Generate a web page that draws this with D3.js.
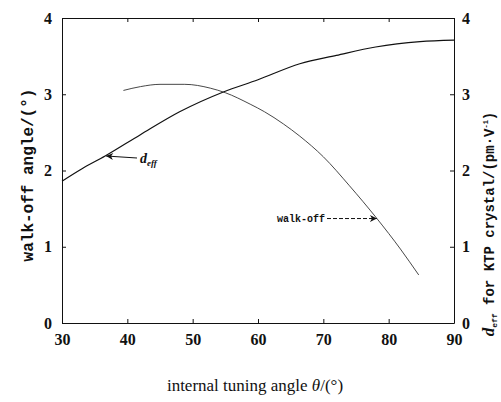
<!DOCTYPE html>
<html>
<head>
<meta charset="utf-8">
<script src="https://cdn.jsdelivr.net/npm/d3@7"></script>
<style>
    body { margin: 0; background: #fff; }
    svg { display: block; }
</style>
</head>
<body>
<svg id="chart"></svg>
<script>
// values
const deffTheta = [30, 33, 36.6, 42, 48, 54.7, 60, 66.4, 72, 78, 84.8, 90]
const deffValues = [1.86, 2.02, 2.19, 2.47, 2.77, 3.03, 3.19, 3.40, 3.51, 3.62, 3.69, 3.71]

const walkTheta = [39.4, 42, 45, 48.8, 52.7, 55, 58.8, 61, 63.9, 66.4, 70, 74, 78.2, 81.8, 84.6]
const walkValues = [3.05, 3.10, 3.13, 3.13, 3.08, 3.02, 2.87, 2.77, 2.61, 2.45, 2.18, 1.80, 1.37, 0.97, 0.63]

const xTicks = [30, 40, 50, 60, 70, 80, 90]
const yTicks = [0, 1, 2, 3, 4]

const width = 501
const height = 402
const margin = { top: 18, right: 47, bottom: 79, left: 62 }

const svg = d3.select('#chart').attr('width', width).attr('height', height)

const x = d3.scaleLinear().domain([30, 90]).range([margin.left, width - margin.right])
const y = d3.scaleLinear().domain([0, 4]).range([height - margin.bottom, margin.top])

const numFont = '"Liberation Serif", "DejaVu Serif", serif'
const monoFont = '"Liberation Mono", "DejaVu Sans Mono", monospace'
const intFormat = d3.format('d')

// axes: ticks point inward on all four sides
const axisGroup = svg.append('g').attr('class', 'axes')
function styleAxis(g) {
    g.selectAll('path').attr('stroke', '#111').attr('stroke-width', 1)
    g.selectAll('line').attr('stroke', '#111')
    g.selectAll('text')
        .attr('fill', '#111')
        .attr('font-family', numFont)
        .attr('font-weight', 'bold')
        .attr('font-size', 16)
}

axisGroup.append('g')
    .attr('transform', `translate(0,${y(0)})`)
    .call(d3.axisBottom(x).tickValues(xTicks).tickFormat(intFormat)
        .tickSizeInner(-4).tickSizeOuter(0).tickPadding(11))
    .call(styleAxis)

axisGroup.append('g')
    .attr('transform', `translate(0,${y(4)})`)
    .call(d3.axisTop(x).tickValues(xTicks).tickSizeInner(-4).tickSizeOuter(0).tickFormat(''))
    .call(styleAxis)

axisGroup.append('g')
    .attr('transform', `translate(${x(30)},0)`)
    .call(d3.axisLeft(y).tickValues(yTicks).tickFormat(intFormat)
        .tickSizeInner(-4).tickSizeOuter(0).tickPadding(10))
    .call(styleAxis)

axisGroup.append('g')
    .attr('transform', `translate(${x(90)},0)`)
    .call(d3.axisRight(y).tickValues(yTicks).tickFormat(intFormat)
        .tickSizeInner(-4).tickSizeOuter(0).tickPadding(8))
    .call(styleAxis)

// curves
const deffLine = d3.line()
    .x((d, i) => x(deffTheta[i]))
    .y(d => y(d))
    .curve(d3.curveMonotoneX)

const walkLine = d3.line()
    .x((d, i) => x(walkTheta[i]))
    .y(d => y(d))
    .curve(d3.curveMonotoneX)

svg.append('path')
    .datum(deffValues)
    .attr('d', deffLine)
    .attr('fill', 'none')
    .attr('stroke', '#111')
    .attr('stroke-width', 1.2)

svg.append('path')
    .datum(walkValues)
    .attr('d', walkLine)
    .attr('fill', 'none')
    .attr('stroke', '#333')
    .attr('stroke-width', 0.9)

// arrow heads for the annotations
svg.append('defs').append('marker')
    .attr('id', 'head')
    .attr('viewBox', '0 0 10 10')
    .attr('refX', 10)
    .attr('refY', 5)
    .attr('markerWidth', 10)
    .attr('markerHeight', 7)
    .attr('markerUnits', 'userSpaceOnUse')
    .attr('orient', 'auto')
    .append('path')
    .attr('d', 'M0,0 L10,5 L0,10 L3,5 Z')
    .attr('fill', '#111')

// d_eff annotation
const deffTip = [x(deffTheta[2]), y(deffValues[2])]
svg.append('line')
    .attr('x1', 137).attr('y1', deffTip[1] + 2)
    .attr('x2', deffTip[0] + 1).attr('y2', deffTip[1])
    .attr('stroke', '#111')
    .attr('stroke-width', 1)
    .attr('marker-end', 'url(#head)')

const deffLabel = svg.append('text')
    .attr('x', 140)
    .attr('y', deffTip[1] + 7)
    .attr('font-family', numFont)
    .attr('font-style', 'italic')
    .attr('font-weight', 'bold')
    .attr('font-size', 14)
    .attr('fill', '#111')
deffLabel.append('tspan').text('d')
deffLabel.append('tspan').attr('font-size', 9).attr('dy', 3).text('eff')

// walk-off annotation
const walkTip = [x(walkTheta[12]), y(walkValues[12])]
svg.append('line')
    .attr('x1', 327).attr('y1', walkTip[1])
    .attr('x2', walkTip[0]).attr('y2', walkTip[1])
    .attr('stroke', '#111')
    .attr('stroke-width', 1)
    .attr('stroke-dasharray', '4,2')
    .attr('marker-end', 'url(#head)')

svg.append('text')
    .attr('x', 325)
    .attr('y', walkTip[1] + 3)
    .attr('text-anchor', 'end')
    .attr('font-family', monoFont)
    .attr('font-weight', 'bold')
    .attr('font-size', 10)
    .attr('fill', '#111')
    .text('walk-off')

// axis titles
svg.append('text')
    .attr('transform', 'translate(33,175) rotate(-90)')
    .attr('text-anchor', 'middle')
    .attr('font-family', monoFont)
    .attr('font-weight', 'bold')
    .attr('font-size', 16)
    .attr('fill', '#111')
    .text('walk-off angle/(°)')

const rightTitle = svg.append('text')
    .attr('transform', 'translate(494,224) rotate(-90)')
    .attr('text-anchor', 'middle')
    .attr('font-family', monoFont)
    .attr('font-weight', 'bold')
    .attr('font-size', 14)
    .attr('fill', '#111')
rightTitle.append('tspan').attr('font-family', numFont).attr('font-style', 'italic').attr('font-size', 17).text('d')
rightTitle.append('tspan').attr('font-size', 8).attr('dy', 3).text('eff')
rightTitle.append('tspan').attr('dy', -3).text(' for KTP crystal/(pm·V')
rightTitle.append('tspan').attr('font-size', 7).attr('dy', -6).text('-1')
rightTitle.append('tspan').attr('dy', 6).text(')')

const xTitle = svg.append('text')
    .attr('x', 255)
    .attr('y', 391)
    .attr('text-anchor', 'middle')
    .attr('font-family', numFont)
    .attr('font-size', 17)
    .attr('fill', '#111')
xTitle.append('tspan').text('internal tuning angle ')
xTitle.append('tspan').attr('font-style', 'italic').text('θ')
xTitle.append('tspan').text('/(°)')
</script>
</body>
</html>
